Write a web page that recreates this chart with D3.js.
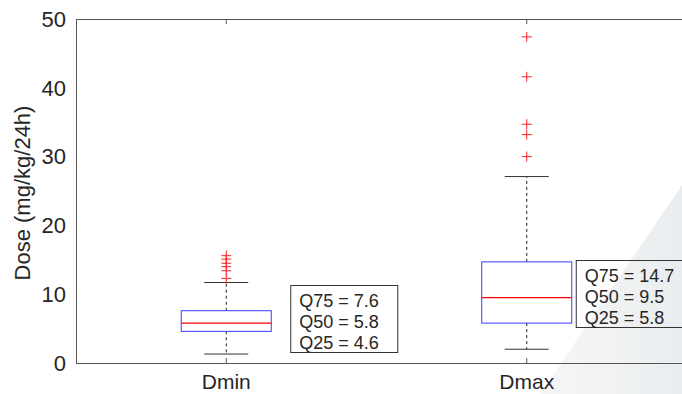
<!DOCTYPE html>
<html>
<head>
<meta charset="utf-8">
<script src="https://cdn.jsdelivr.net/npm/d3@7"></script>
<style>
  body { margin: 0; background: #fff; }
  text { font-family: "Liberation Sans", Arial, sans-serif; fill: #262626; }
</style>
</head>
<body>
<div id="chart"></div>
<script>
// box plot stats
const categories = ['Dmin', 'Dmax'];
const q25 = [4.6, 5.8];
const q50 = [5.8, 9.5];
const q75 = [7.6, 14.7];
const whiskerLow = [1.3, 2.0];
const whiskerHigh = [11.7, 27.1];
const outliers = [
  [15.6, 15.1, 14.5, 14.0, 13.4, 12.3],
  [47.4, 41.6, 34.7, 33.2, 30.0]
];
const yTicks = [0, 10, 20, 30, 40, 50];

const width = 682;
const height = 394;
const margin = { top: 19, right: 5, bottom: 31, left: 76 };

const svg = d3.select('#chart').append('svg')
  .attr('width', width)
  .attr('height', height);

// faint grey wedge in the lower right corner of the slide
const grad = svg.append('defs').append('linearGradient')
  .attr('id', 'wedge')
  .attr('x1', '0%').attr('y1', '0%')
  .attr('x2', '100%').attr('y2', '0%');
grad.append('stop').attr('offset', '0%').attr('stop-color', '#f5f6f7');
grad.append('stop').attr('offset', '100%').attr('stop-color', '#eaedef');
svg.append('polygon')
  .attr('points', `${width},185 540,${height} ${width},${height}`)
  .attr('fill', 'url(#wedge)');

// scales
const x = d3.scalePoint()
  .domain(categories)
  .range([margin.left, 677])
  .padding(0.5);

const y = d3.scaleLinear()
  .domain([0, 50])
  .range([height - margin.bottom, margin.top]);

const axisColor = '#555';

// frame: left, bottom, top
svg.append('line')
  .attr('x1', margin.left + 0.5).attr('x2', margin.left + 0.5)
  .attr('y1', y(0)).attr('y2', y(50))
  .attr('stroke', axisColor);
svg.append('line')
  .attr('x1', margin.left).attr('x2', width)
  .attr('y1', y(0) + 0.5).attr('y2', y(0) + 0.5)
  .attr('stroke', axisColor);
svg.append('line')
  .attr('x1', margin.left).attr('x2', width)
  .attr('y1', y(50) + 0.5).attr('y2', y(50) + 0.5)
  .attr('stroke', axisColor);

// x ticks (bottom and top, pointing inward)
categories.forEach(c => {
  svg.append('line')
    .attr('x1', x(c)).attr('x2', x(c))
    .attr('y1', y(0)).attr('y2', y(0) - 5)
    .attr('stroke', axisColor);
  svg.append('line')
    .attr('x1', x(c)).attr('x2', x(c))
    .attr('y1', y(50)).attr('y2', y(50) + 5)
    .attr('stroke', axisColor);
});

// y tick labels
svg.append('g')
  .selectAll('text')
  .data(yTicks)
  .enter().append('text')
  .attr('x', 66)
  .attr('y', d => y(d))
  .attr('dy', '0.35em')
  .attr('text-anchor', 'end')
  .attr('font-size', 22)
  .text(d => d);

// x tick labels
svg.append('g')
  .selectAll('text')
  .data(categories)
  .enter().append('text')
  .attr('x', d => x(d))
  .attr('y', 389)
  .attr('text-anchor', 'middle')
  .attr('font-size', 21)
  .text(d => d);

// y axis title
svg.append('text')
  .attr('transform', `translate(30,193) rotate(-90)`)
  .attr('text-anchor', 'middle')
  .attr('font-size', 22)
  .text('Dose (mg/kg/24h)');

// boxes
const boxHalf = 45;
const capHalf = 22;

const boxes = svg.selectAll('.box')
  .data(categories)
  .enter().append('g')
  .attr('class', 'box');

// whisker stems (dashed)
boxes.append('line')
  .attr('x1', d => x(d)).attr('x2', d => x(d))
  .attr('y1', (d, i) => y(q75[i])).attr('y2', (d, i) => y(whiskerHigh[i]))
  .attr('stroke', '#222').attr('stroke-dasharray', '3,3');
boxes.append('line')
  .attr('x1', d => x(d)).attr('x2', d => x(d))
  .attr('y1', (d, i) => y(q25[i])).attr('y2', (d, i) => y(whiskerLow[i]))
  .attr('stroke', '#222').attr('stroke-dasharray', '3,3');

// whisker caps
boxes.append('line')
  .attr('x1', d => x(d) - capHalf).attr('x2', d => x(d) + capHalf)
  .attr('y1', (d, i) => y(whiskerHigh[i])).attr('y2', (d, i) => y(whiskerHigh[i]))
  .attr('stroke', '#333');
boxes.append('line')
  .attr('x1', d => x(d) - capHalf).attr('x2', d => x(d) + capHalf)
  .attr('y1', (d, i) => y(whiskerLow[i])).attr('y2', (d, i) => y(whiskerLow[i]))
  .attr('stroke', '#333');

// IQR box
boxes.append('rect')
  .attr('x', d => x(d) - boxHalf)
  .attr('y', (d, i) => y(q75[i]))
  .attr('width', boxHalf * 2)
  .attr('height', (d, i) => y(q25[i]) - y(q75[i]))
  .attr('fill', 'none')
  .attr('stroke', '#3a3aff');

// median
boxes.append('line')
  .attr('x1', d => x(d) - boxHalf).attr('x2', d => x(d) + boxHalf)
  .attr('y1', (d, i) => y(q50[i])).attr('y2', (d, i) => y(q50[i]))
  .attr('stroke', '#ff0000')
  .attr('stroke-width', 1.2);

// outliers as red plus signs
categories.forEach((c, i) => {
  const g = svg.append('g');
  outliers[i].forEach(v => {
    g.append('line')
      .attr('x1', x(c) - 5).attr('x2', x(c) + 5)
      .attr('y1', y(v)).attr('y2', y(v))
      .attr('stroke', '#ff2020');
    g.append('line')
      .attr('x1', x(c)).attr('x2', x(c))
      .attr('y1', y(v) - 5).attr('y2', y(v) + 5)
      .attr('stroke', '#ff2020');
  });
});

// quartile annotation boxes
const notePos = [{ dx: 64, top: 285 }, { dx: 49, top: 260 }];
categories.forEach((c, i) => {
  const left = x(c) + notePos[i].dx;
  const top = notePos[i].top;
  svg.append('rect')
    .attr('x', left + 0.5).attr('y', top + 0.5)
    .attr('width', 107).attr('height', 67)
    .attr('fill', 'none')
    .attr('stroke', '#333');
  const lines = [`Q75 = ${q75[i]}`, `Q50 = ${q50[i]}`, `Q25 = ${q25[i]}`];
  svg.append('g')
    .selectAll('text')
    .data(lines)
    .enter().append('text')
    .attr('x', left + 9)
    .attr('y', (d, j) => top + 22 + j * 21)
    .attr('font-size', 18)
    .text(d => d);
});
</script>
</body>
</html>
